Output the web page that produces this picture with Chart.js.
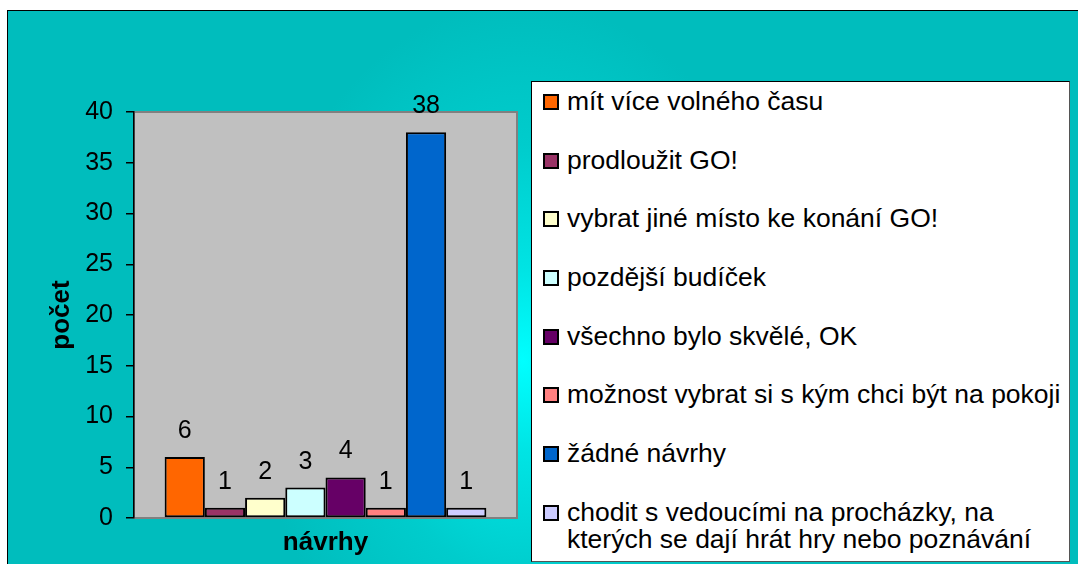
<!DOCTYPE html>
<html>
<head>
<meta charset="utf-8">
<script src="https://cdn.jsdelivr.net/npm/chart.js@4.4.1/dist/chart.umd.min.js"></script>
<style>
  html, body { margin: 0; padding: 0; background: #fff; }
  body { width: 1078px; height: 564px; position: relative; overflow: hidden; font-family: "Liberation Sans", Arial, sans-serif; }
  #frame {
    position: absolute; left: 7px; top: 10px; width: 1100px; height: 600px;
    border-left: 1px solid #000; border-top: 1px solid #000;
    background: radial-gradient(ellipse 270px 360px at 515px 350px, #00ffff 0%, #00e4e4 25%, #00cccc 60%, #00bdbd 100%);
  }
  #chart { position: absolute; left: 0; top: 0; }
  #legend {
    position: absolute; left: 531px; top: 81px; width: 537px; height: 473px;
    background: #fff; border: 1px solid #000; border-right-color: #555; border-bottom-color: #555;
    padding-top: 6px; box-sizing: content-box;
  }
  .item { display: flex; align-items: flex-start; font-size: 26.5px; line-height: 27px; margin-bottom: 31.7px; color: #000; }
  .swatch { flex: none; width: 12px; height: 12px; border: 2px solid #000; margin: 6px 8px 0 11px; }
  .text { width: 498px; }
</style>
</head>
<body>
<div id="frame"></div>
<canvas id="chart" width="1078" height="564"></canvas>
<div id="legend"></div>
<script>
// data
const suggestions = [
    "mít více volného času",
    "prodloužit GO!",
    "vybrat jiné místo ke konání GO!",
    "pozdější budíček",
    "všechno bylo skvělé, OK",
    "možnost vybrat si s kým chci být na pokoji",
    "žádné návrhy",
    "chodit s vedoucími na procházky, na kterých se dají hrát hry nebo poznávání"
];
const counts = [6, 1, 2, 3, 4, 1, 38, 1];
const yTicks = [0, 5, 10, 15, 20, 25, 30, 35, 40];

const barColors = ["#ff6600", "#993366", "#ffffcc", "#ccffff", "#660066", "#ff8080", "#0066cc", "#ccccff"];
const FONT = "'Liberation Sans', Arial, sans-serif";

// gray plot area with border
const plotArea = {
    id: "plotArea",
    beforeDraw(chart) {
        const { ctx, chartArea: a } = chart;
        ctx.save();
        ctx.fillStyle = "#c0c0c0";
        ctx.fillRect(a.left, a.top, a.right - a.left, a.bottom - a.top);
        ctx.strokeStyle = "#808080";
        ctx.lineWidth = 2;
        ctx.strokeRect(a.left, a.top, a.right - a.left, a.bottom - a.top);
        ctx.restore();
    }
};

// value labels above the bars
const valueLabels = {
    id: "valueLabels",
    afterDatasetsDraw(chart) {
        const ctx = chart.ctx;
        ctx.save();
        ctx.font = "25px " + FONT;
        ctx.fillStyle = "#000";
        ctx.textAlign = "center";
        ctx.textBaseline = "alphabetic";
        chart.data.datasets.forEach((ds, i) => {
            const bar = chart.getDatasetMeta(i).data[0];
            ctx.fillText(String(ds.data[0]), bar.x, bar.y - 19);
        });
        ctx.restore();
    }
};

const chart = new Chart(document.getElementById("chart"), {
    type: "bar",
    data: {
        labels: [""],
        datasets: suggestions.map((s, i) => ({
            label: s,
            data: [counts[i]],
            backgroundColor: barColors[i],
            borderColor: "#000",
            borderWidth: 2,
            borderSkipped: false,
            categoryPercentage: 0.84,
            barPercentage: 1.0
        }))
    },
    options: {
        responsive: false,
        animation: false,
        layout: { padding: { left: 0, top: 112, right: 561, bottom: 0 } },
        plugins: { legend: { display: false }, tooltip: { enabled: false } },
        scales: {
            x: {
                ticks: { display: false },
                grid: { display: false },
                border: { display: false },
                title: { display: true, text: "návrhy", color: "#000", font: { family: FONT, size: 26, weight: "bold" }, padding: { top: 0, bottom: 6 } },
                afterFit(scale) { scale.height = 46; }
            },
            y: {
                min: 0,
                max: 40,
                afterBuildTicks(scale) { scale.ticks = yTicks.map(v => ({ value: v })); },
                ticks: { color: "#000", padding: 13, font: { family: FONT, size: 25 } },
                grid: { drawOnChartArea: false, drawTicks: true, tickLength: 8, color: "#000", lineWidth: 1.5 },
                border: { display: true, color: "#000", width: 1.5 },
                title: { display: true, text: "počet", color: "#000", font: { family: FONT, size: 26, weight: "bold" }, padding: { top: 46, bottom: 0 } },
                afterFit(scale) { scale.width = 134; }
            }
        }
    },
    plugins: [plotArea, valueLabels]
});

// legend box
const legend = document.getElementById("legend");
suggestions.forEach((s, i) => {
    const item = document.createElement("div");
    item.className = "item";
    const sw = document.createElement("span");
    sw.className = "swatch";
    sw.style.background = barColors[i];
    const tx = document.createElement("span");
    tx.className = "text";
    tx.textContent = s;
    item.appendChild(sw);
    item.appendChild(tx);
    legend.appendChild(item);
});
</script>
</body>
</html>
